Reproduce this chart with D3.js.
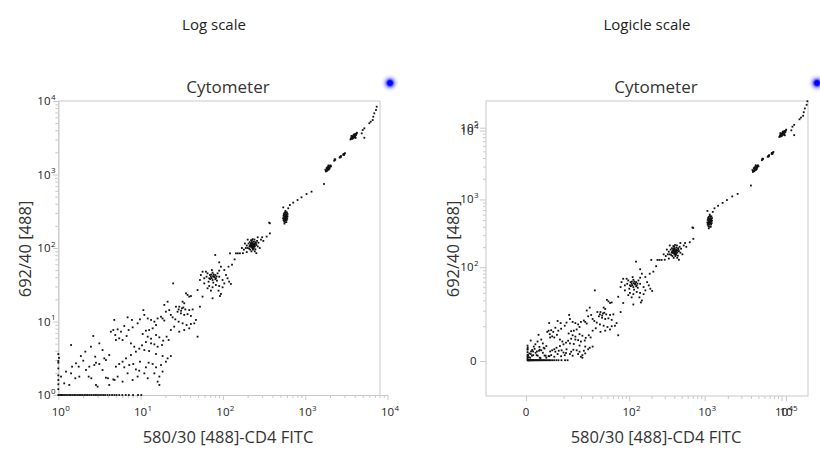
<!DOCTYPE html>
<html><head><meta charset="utf-8">
<script src="https://cdn.jsdelivr.net/npm/d3@7"></script>
<style>html,body{margin:0;padding:0;background:#fff}svg{display:block}</style>
</head><body>
<svg id="chart" width="820" height="452"></svg>
<script>
// ---------------- data (event values in channel units) ----------------
const panelTitles = ['Log scale', 'Logicle scale'];
const plotTitle = 'Cytometer';
const xAxisTitle = '580/30 [488]-CD4 FITC';
const yAxisTitle = '692/40 [488]';
const logTickValues = [1, 10, 100, 1000, 10000];
const logicleTickValues = [0, 100, 1000, 10000, 100000];
const logicleMinorValues = [10,20,30,40,50,60,70,80,90,200,300,400,500,600,700,800,900,2000,3000,4000,5000,6000,7000,8000,9000];

// events piled on the y floor (value 1)
const floorRow = [[1,1],[1.03,1],[1.07,1],[1.1,1],[1.14,1],[1.19,1],[1.24,1],[1.3,1],[1.36,1],[1.42,1],[1.49,1],[1.56,1],[1.63,1],[1.71,1],[1.79,1],[1.88,1],[1.97,1],[2.07,1],[2.17,1],[2.28,1],[2.4,1],[2.52,1],[2.66,1],[2.8,1],[2.95,1],[3.12,1],[3.3,1],[3.5,1],[3.7,1],[3.95,1],[4.2,1],[4.5,1],[4.8,1],[5.1,1],[5.5,1],[6.0,1],[6.6,1],[7.2,1],[8.1,1],[9.3,1],[10.2,1]];
// events piled on the x floor (value 1)
const floorColumn = [[1,1.2],[1,1.4],[1,1.6],[1,1.85],[1,2.3],[1,2.75],[1,2.9],[1,3.6],[1.02,3.2]];
// low debris
const debrisLow = [[1.43,4.79],[2.66,6.35],[2.49,4.54],[2.13,3.89],[1.88,3.39],[2.01,2.93],[1.64,2.70],[1.47,2.43],[1.77,2.43],[1.24,2.08],[1.43,1.97],[1.08,1.78],[2.34,1.78],[2.52,1.69],[2.87,1.37],[3.0,1.30],[3.79,1.72],[4.01,1.69],[4.66,1.63],[4.83,1.60],[3.45,2.19],[3.15,2.64],[2.87,2.75],[2.74,2.56],[3.62,3.15],[3.79,2.99],[2.81,3.32],[3.45,4.09],[4.16,3.5],[3.15,5.04],[2.17,2.19],[1.80,1.78],[1.36,1.37],[1.18,1.44],[1.61,1.69],[2.38,2.43],[4.16,1.37],[5.26,1.78],[6.04,1.52],[6.95,1.97],[8.0,1.60],[9.2,1.78],[11.1,1.97],[12.2,1.69]];
const debrisMid = [[6.95,11.4],[7.85,10.5],[9.2,9.44],[9.82,10.7],[8.0,8.33],[7.15,7.66],[6.33,8.68],[5.77,7.27],[5.26,7.82],[4.66,7.66],[4.36,7.27],[4.92,6.55],[5.5,5.9],[6.04,5.6],[6.76,6.35],[7.63,5.04],[8.38,4.54],[8.77,3.89],[7.63,3.5],[6.64,3.15],[6.04,2.84],[5.5,2.64],[6.33,2.38],[7.28,2.56],[8.15,2.64],[8.77,2.23],[9.63,2.14],[5.01,2.43],[4.79,10.5],[5.01,5.6]];
const debrisHigh = [[10.8,14.3],[11.1,12.3],[12.2,11.0],[13.4,10.5],[14.7,9.95],[16.1,11.0],[17.7,11.6],[19.4,10.3],[15.4,8.96],[14.0,8.07],[12.7,7.66],[11.6,7.5],[10.6,6.76],[12.2,6.22],[13.4,5.84],[15.4,6.55],[16.9,6.09],[18.8,5.49],[20.7,6.22],[21.9,5.6],[18.2,4.79],[16.1,4.54],[14.7,4.89],[13.4,5.04],[11.6,5.26],[10.4,4.74],[9.63,4.27],[11.1,4.09],[12.7,3.97],[15.4,3.61],[18.5,3.39],[21.3,3.15],[23.3,3.39],[20.3,2.84],[17.7,2.56],[15.4,2.38],[14.0,2.64],[12.5,2.75],[11.6,2.38],[9.82,2.84],[16.9,1.78],[16.1,1.52],[16.9,1.37],[14.7,1.97],[18.5,2.08]];
// bead peaks
const peak1 = [[24.9,33.0],[35.6,24.2],[37.2,23.0],[39.0,21.8],[40.9,22.2],[32.4,18.6],[33.9,17.7],[29.5,15.9],[31.8,15.1],[34.9,14.6],[39.0,14.3],[42.9,14.6],[26.9,15.9],[28.1,13.6],[30.9,12.9],[33.9,12.3],[37.2,12.6],[40.9,11.9],[24.5,11.4],[23.3,12.3],[26.4,10.7],[29.0,9.95],[32.4,9.44],[36.2,8.96],[40.9,9.25],[47.0,10.5],[44.9,9.44],[39.0,8.07],[33.9,7.66],[29.5,7.27],[25.6,8.51],[23.3,7.66],[49.2,6.22],[21.3,18.6],[19.4,16.8],[22.3,14.3],[20.3,13.6],[18.5,11.0],[31.0,14.0],[33.0,15.5],[29.0,14.6]];
const peak2 = [[65.1,45.2],[69.5,42.9],[74.9,46.2],[80.7,42.9],[86.1,45.2],[90.2,40.7],[82.2,38.7],[74.9,36.7],[68.2,38.7],[63.3,40.7],[71.5,40.7],[78.5,39.9],[84.6,35.9],[67.0,34.8],[76.4,33.8],[73.5,50.2],[90.2,49.2],[62.2,47.6],[80.7,80.3],[90.2,63.8],[94.6,55.7],[56.6,47.6],[54.0,42.9],[52.6,36.7],[59.3,33.0],[68.2,30.4],[74.9,29.2],[82.2,31.4],[90.2,30.4],[88.5,26.3],[94.6,23.7],[71.5,26.3],[65.1,28.3],[119,34.8],[125,32.4],[104,33.0],[109,42.9],[99.1,29.2],[74.9,20.7],[92,22.2],[49.2,26.8],[56.6,21.8],[52.6,15.9],[104,50.2],[114,38.7],[59.3,38.7],[99.1,36.7],[76,41.5],[79,40.5],[73,39],[77,43.8],[81,37.6],[72,43.5],[84,41],[70,37.8]];
const bridge23 = [[144,84.6],[152,84.6],[161,84.6],[122,84.6],[129,59.3],[117,55.7],[139,70]];
const peak3 = [[200,100],[210,105],[220,112],[230,108],[240,115],[250,120],[215,95],[225,125],[235,98],[245,105],[205,115],[255,110],[228,118],[218,104],[238,122],[232,95],[212,120],[248,96],[222,90],[242,130],[260,125],[195,108],[208,98],[236,111],[226,102],[216,110],[252,116],[230,132],[220,128],[244,90],[265,105],[190,100],[270,118],[225,110],[235,105],[180,95],[185,115],[290,130],[280,100],[300,140],[175,85],[265,140],[200,130],[255,85],[170,100],[310,125],[195,88],[373,158],[340,143],[222,107],[231,113],[227,104],[234,109],[219,115],[240,110],[228,100],[223,119],[213,108],[245,112],[237,101],[225,114]];
const peak4 = [[560,260],[575,270],[590,280],[550,250],[580,250],[565,285],[600,265],[545,275],[585,300],[570,240],[555,230],[595,240],[610,290],[540,255],[575,310],[560,300],[590,225],[605,250],[550,290],[580,265],[565,255],[595,275],[570,225],[600,305],[555,270],[585,285],[575,320],[545,240],[610,270],[560,215],[541,357],[622,347],[372,217],[365,221],[568,262],[578,278],[588,258],[558,245]];
const bridge45 = [[651,385],[715,414],[807,450],[902,489],[1038,543],[1194,584]];
const peak5 = [[1800,1130],[1850,1180],[1900,1210],[1950,1260],[2000,1300],[1820,1220],[1880,1150],[1930,1290],[1970,1200],[1860,1250],[1780,1100],[2030,1330],[1900,1280],[1940,1170],[1840,1120],[1990,1250],[1690,743],[1760,1160],[2060,1290],[1920,1330]];
const peak6 = [[2290,1575],[2250,1540],[2320,1600],[2280,1610],[2690,1750],[2650,1720],[2720,1780],[2700,1720],[2950,1880],[2900,1850],[3000,1910],[2960,1840],[2920,1900],[2620,1700],[3040,1950]];
const peak7 = [[3700,3150],[3800,3250],[3900,3350],[4000,3450],[4100,3550],[3750,3300],[3850,3400],[3950,3200],[4050,3300],[3650,3200],[3900,3500],[4000,3250],[3800,3100],[4150,3450],[3850,3200],[3950,3450],[3700,3050],[4050,3550],[3600,3100],[4200,3600],[5230,3160],[3550,3000],[4250,3700],[3650,3350],[4100,3150]];
const brightTail = [[7390,8360],[7250,7550],[6910,6800],[6720,6110],[6610,5510],[6250,5230],[6010,4980],[5230,4250],[5000,4030],[4860,3630]];

const events = [].concat(floorRow, floorColumn, debrisLow, debrisMid, debrisHigh,
  peak1, peak2, bridge23, peak3, peak4, bridge45, peak5, peak6, peak7, brightTail);

// ---------------- drawing ----------------
const FONT = "'Open Sans','Noto Sans',sans-serif";
const GRAY = '#c9c9c9';
const svg = d3.select('#chart');

const defs = svg.append('defs');
const grad = defs.append('radialGradient').attr('id', 'glow');
[[0,'#0000ff',1],[0.25,'#0000ff',1],[0.45,'#3333ff',0.5],[0.7,'#7777ff',0.18],[1,'#aaaaff',0]].forEach(s =>
  grad.append('stop').attr('offset', s[0]).attr('stop-color', s[1]).attr('stop-opacity', s[2]));

function powLabelX(g, v, x, y) {
  if (v === 0) {
    g.append('text').attr('x', x).attr('y', y).attr('text-anchor', 'middle')
      .attr('font-size', 11.5).attr('font-family', FONT).attr('fill', '#222').text('0');
    return;
  }
  const e = Math.round(Math.log10(v));
  const base = g.append('text').attr('y', y).attr('font-size', 11.5)
    .attr('font-family', FONT).attr('fill', '#222').text('10');
  const w = base.node().getComputedTextLength();
  base.attr('x', x - w / 2);
  g.append('text').attr('x', x + w / 2 + 0.3).attr('y', y - 5).attr('font-size', 8)
    .attr('font-family', FONT).attr('fill', '#222').text(e);
}
function powLabelY(g, v, xRight, y) {
  if (v === 0) {
    g.append('text').attr('x', xRight + 3).attr('y', y + 4).attr('text-anchor', 'end')
      .attr('font-size', 11.5).attr('font-family', FONT).attr('fill', '#222').text('0');
    return;
  }
  const e = Math.round(Math.log10(v));
  g.append('text').attr('x', xRight).attr('y', y + 4).attr('text-anchor', 'end')
    .attr('font-size', 11.5).attr('font-family', FONT).attr('fill', '#222').text('10');
  g.append('text').attr('x', xRight + 0.6).attr('y', y - 1.5).attr('font-size', 8)
    .attr('font-family', FONT).attr('fill', '#222').text(e);
}
function styleAxis(sel) {
  sel.selectAll('path').attr('stroke', GRAY);
  sel.selectAll('line').attr('stroke', GRAY);
  sel.selectAll('text').remove();
}
function heading(i, headX) {
  svg.append('text').attr('x', headX).attr('y', 30).attr('text-anchor', 'middle')
    .attr('font-family', FONT).attr('font-size', 15).attr('fill', '#222').text(panelTitles[i]);
}
function glowDot(x, y) {
  svg.append('circle').attr('cx', x).attr('cy', y).attr('r', 9.5).attr('fill', 'url(#glow)');
}
function drawTitles(g, cx, yTitleX) {
  g.append('text').attr('x', cx).attr('y', 93).attr('text-anchor', 'middle')
    .attr('font-family', FONT).attr('font-size', 17).attr('fill', '#333').text(plotTitle);
  g.append('text').attr('x', cx).attr('y', 443).attr('text-anchor', 'middle')
    .attr('font-family', FONT).attr('font-size', 16.5).attr('fill', '#333').text(xAxisTitle);
  g.append('text').attr('transform', `translate(${yTitleX},249) rotate(-90)`).attr('text-anchor', 'middle')
    .attr('font-family', FONT).attr('font-size', 16.5).attr('fill', '#333').text(yAxisTitle);
}
function drawEvents(g, xs, ys) {
  g.append('g').selectAll('rect').data(events).join('rect')
    .attr('x', d => xs(d[0]) - 0.9).attr('y', d => ys(d[1]) - 0.9)
    .attr('width', 1.8).attr('height', 1.8).attr('fill', '#111');
}

// ----- left: log scale -----
{
  const xL = d3.scaleLog().domain([1, 1e4]).range([58.3, 387.5]).clamp(true);
  const yL = d3.scaleLog().domain([1, 1e4]).range([395, 101]).clamp(true);
  const g = svg.append('g');
  heading(0, 214);
  g.append('path').attr('d', `M${xL(1)},${yL(1e4)}H380V${yL(1)}`).attr('fill', 'none').attr('stroke', GRAY);
  const minorX = xL.ticks().filter(v => !logTickValues.includes(v));
  const minorY = yL.ticks().filter(v => !logTickValues.includes(v));
  g.append('g').attr('transform', `translate(0,${yL(1)})`)
    .call(d3.axisBottom(xL).tickValues(logTickValues).tickSize(5).tickSizeOuter(0)).call(styleAxis);
  g.append('g').attr('transform', `translate(0,${yL(1)})`)
    .call(d3.axisBottom(xL).tickValues(minorX).tickSize(3).tickSizeOuter(0)).call(styleAxis);
  g.append('g').attr('transform', `translate(${xL(1)},0)`)
    .call(d3.axisLeft(yL).tickValues(logTickValues).tickSize(5).tickSizeOuter(0)).call(styleAxis);
  g.append('g').attr('transform', `translate(${xL(1)},0)`)
    .call(d3.axisLeft(yL).tickValues(minorY).tickSize(3).tickSizeOuter(0)).call(styleAxis);
  logTickValues.forEach(v => powLabelX(g, v, xL(v), 415.5));
  logTickValues.forEach(v => powLabelY(g, v, 50.5, yL(v)));
  drawTitles(g, 228, 31);
  drawEvents(g, xL, yL);
  glowDot(390, 83);
}

// ----- right: logicle scale -----
{
  // scales used to place the events
  const xR = d3.scaleSymlog().constant(4).domain([0, 1e4]).range([519, 819]);
  const yR = d3.scaleSymlog().constant(4).domain([0, 1e4]).range([368, 95]);
  // scales used by the displayed axis annotation (as drawn in the reference)
  const xAx = d3.scaleSymlog().constant(4.8).domain([0, 11420]).range([526, 786]).clamp(true);
  const yAx = d3.scaleSymlog().constant(4.58).domain([0, 11000]).range([361, 127.7]).clamp(true);
  const g = svg.append('g');
  heading(1, 647);
  g.append('rect').attr('x', 486).attr('y', 101).attr('width', 322).attr('height', 295)
    .attr('fill', 'none').attr('stroke', GRAY);
  const bx = g.append('g').attr('transform', 'translate(0,396)');
  bx.call(d3.axisBottom(xAx).tickValues(logicleTickValues).tickSize(5).tickSizeOuter(0)).call(styleAxis);
  bx.select('.domain').remove();
  const bxm = g.append('g').attr('transform', 'translate(0,396)');
  bxm.call(d3.axisBottom(xAx).tickValues(logicleMinorValues).tickSize(3).tickSizeOuter(0)).call(styleAxis);
  bxm.select('.domain').remove();
  const ly = g.append('g').attr('transform', 'translate(486,0)');
  ly.call(d3.axisLeft(yAx).tickValues(logicleTickValues).tickSize(6).tickSizeOuter(0)).call(styleAxis);
  ly.select('.domain').remove();
  const lym = g.append('g').attr('transform', 'translate(486,0)');
  lym.call(d3.axisLeft(yAx).tickValues(logicleMinorValues).tickSize(3).tickSizeOuter(0)).call(styleAxis);
  lym.select('.domain').remove();
  logicleTickValues.forEach(v => powLabelX(g, v, xAx(v), 415.5));
  logicleTickValues.forEach(v => powLabelY(g, v, 473.5, yAx(v)));
  drawTitles(g, 656, 459);
  drawEvents(g, xR, yR);
  glowDot(817, 83);
}
</script>
</body></html>
